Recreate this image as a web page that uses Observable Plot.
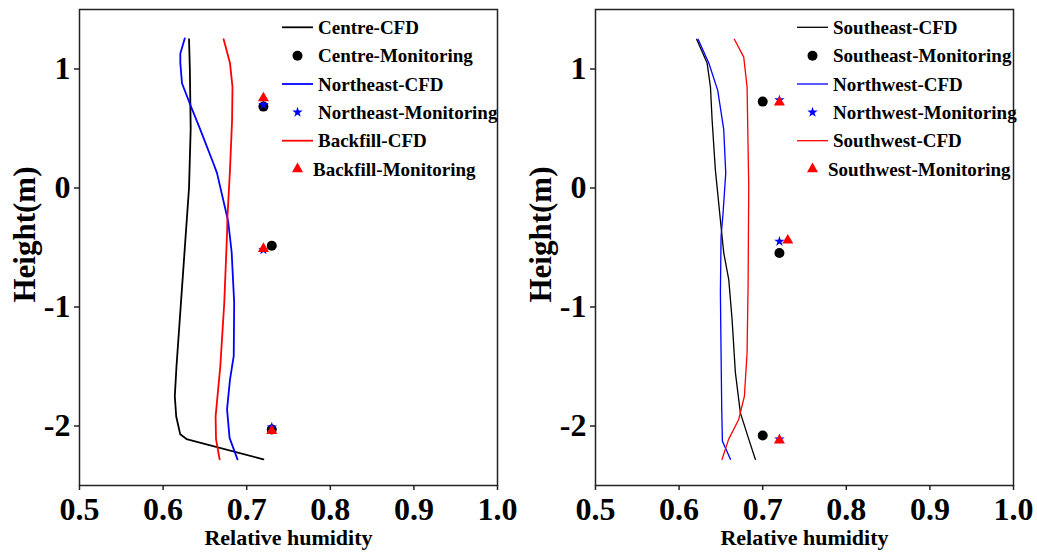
<!DOCTYPE html>
<html>
<head>
<meta charset="utf-8">
<script src="https://cdn.jsdelivr.net/npm/d3@7"></script>
<script src="https://cdn.jsdelivr.net/npm/@observablehq/plot@0.6"></script>
<style>
  html, body { margin: 0; padding: 0; background: #fff; }
  #wrap { position: relative; width: 1037px; height: 553px; overflow: hidden; font-family: "Liberation Serif", "Times New Roman", serif; }
  .panel { position: absolute; top: 0; }
  #legend { position: absolute; left: 0; top: 0; pointer-events: none; }
</style>
</head>
<body>
<div id="wrap">
  <div class="panel" id="p1" style="left:0px"></div>
  <div class="panel" id="p2" style="left:518px"></div>
  <svg id="legend" width="1037" height="553"></svg>
</div>
<script>
// ---------- axis ticks ----------
const xTicks = [0.5, 0.6, 0.7, 0.8, 0.9, 1.0];
const yTicks = [-2, -1, 0, 1];
const xLabel = "Relative humidity";
const yLabel = "Height(m)";

// ---------- Left panel: CFD profiles (height, relative humidity) ----------
const centreCfdH  = [1.25, 1.0, 0.5, 0.0, -0.5, -1.0, -1.5, -1.75, -1.92, -2.07, -2.11, -2.28];
const centreCfdRH = [0.631, 0.632, 0.633, 0.631, 0.626, 0.621, 0.616, 0.614, 0.6157, 0.6205, 0.628, 0.72];

const northeastCfdH  = [1.258, 1.13, 1.05, 0.88, 0.70, 0.49, 0.21, 0.125, -0.24, -0.29, -0.54, -0.96, -1.41, -1.61, -1.86, -2.10, -2.28];
const northeastCfdRH = [0.626, 0.6206, 0.6206, 0.6226, 0.6325, 0.6445, 0.660, 0.6645, 0.6765, 0.678, 0.682, 0.685, 0.6845, 0.680, 0.6765, 0.6795, 0.689];

const backfillCfdH  = [1.25, 1.05, 0.85, 0.57, 0.15, -0.24, -0.38, -0.96, -1.50, -1.92, -2.11, -2.28];
const backfillCfdRH = [0.6724, 0.680, 0.683, 0.6825, 0.680, 0.677, 0.6765, 0.6732, 0.6684, 0.6628, 0.6633, 0.6676];

// ---------- Left panel: monitoring points ----------
const centreMonH  = [0.684, -0.485, -2.03];
const centreMonRH = [0.72, 0.73, 0.73];
const northeastMonH  = [0.70, -0.52, -2.01];
const northeastMonRH = [0.72, 0.72, 0.73];
const backfillMonH  = [0.755, -0.51, -2.04];
const backfillMonRH = [0.72, 0.72, 0.73];

// ---------- Right panel: CFD profiles ----------
const southeastCfdH  = [1.25, 1.05, 0.85, 0.57, 0.15, -0.27, -0.546, -0.77, -1.106, -1.55, -1.89, -2.11, -2.28];
const southeastCfdRH = [0.621, 0.6335, 0.6375, 0.6395, 0.6434, 0.6494, 0.6534, 0.6594, 0.6634, 0.6673, 0.6733, 0.6833, 0.6912];

const northwestCfdH  = [1.25, 1.05, 0.82, 0.49, 0.125, -0.21, -0.407, -0.88, -1.385, -1.86, -2.127, -2.28];
const northwestCfdRH = [0.6227, 0.6355, 0.6462, 0.6534, 0.6558, 0.6526, 0.6502, 0.6494, 0.6502, 0.651, 0.6518, 0.6614];

const southwestCfdH  = [1.25, 1.10, 0.85, 0.01, -0.83, -1.385, -1.75, -1.945, -2.11, -2.28];
const southwestCfdRH = [0.6661, 0.6773, 0.6813, 0.6833, 0.6825, 0.6813, 0.6781, 0.6713, 0.6593, 0.6514];

// ---------- Right panel: monitoring points ----------
const southeastMonH  = [0.726, -0.546, -2.08];
const southeastMonRH = [0.70, 0.72, 0.70];
const northwestMonH  = [0.74, -0.449, -2.11];
const northwestMonRH = [0.72, 0.72, 0.72];
const southwestMonH  = [0.72, -0.44, -2.12];
const southwestMonRH = [0.72, 0.73, 0.72];

const toRows = (H, RH) => H.map((h, i) => ({h, v: RH[i]}));

const FONT = "'Liberation Serif', 'Times New Roman', serif";

function panel({width, marginLeft, marginRight, lines, points, lw}) {
  return Plot.plot({
    width, height: 553,
    marginLeft, marginRight, marginTop: 9, marginBottom: 68,
    style: {fontFamily: FONT, fontWeight: "bold", color: "#000", background: "#fff", overflow: "visible"},
    x: {domain: [0.5, 1.0]},
    y: {domain: [-2.5, 1.5]},
    marks: [
      Plot.axisX({ticks: xTicks, tickFormat: d => d.toFixed(1), tickSize: 5, tickPadding: 7, fontSize: 32, label: null, strokeWidth: 1.5, stroke: "#222", fill: "#000"}),
      Plot.axisY({ticks: yTicks, tickFormat: d => String(d), tickSize: 5, tickPadding: 4, fontSize: 32, label: null, strokeWidth: 1.5, stroke: "#222", fill: "#000"}),
      ...lines.map(s => Plot.line(toRows(s.H, s.RH), {x: "v", y: "h", stroke: s.color, strokeWidth: lw})),
      ...points.map(s => Plot.dot(toRows(s.H, s.RH), {x: "v", y: "h", symbol: s.symbol, r: s.r, fill: s.color, stroke: "none"})),
      Plot.frame({stroke: "#222", strokeWidth: 1.5}),
      Plot.text([xLabel], {frameAnchor: "bottom", textAnchor: "middle", lineAnchor: "middle", dy: 52, fontSize: 22, fontWeight: "bold", fill: "#000"}),
      Plot.text([yLabel], {frameAnchor: "left", textAnchor: "middle", lineAnchor: "middle", dx: -54, dy: -13, rotate: -90, fontSize: 31, fontWeight: "bold", fill: "#000"})
    ]
  });
}

const leftLines = [
  {H: centreCfdH, RH: centreCfdRH, color: "#000000", name: "Centre-CFD"},
  {H: northeastCfdH, RH: northeastCfdRH, color: "#0000ff", name: "Northeast-CFD"},
  {H: backfillCfdH, RH: backfillCfdRH, color: "#ff0000", name: "Backfill-CFD"}
];
const leftPoints = [
  {H: centreMonH, RH: centreMonRH, color: "#000000", symbol: "circle", r: 5, name: "Centre-Monitoring"},
  {H: northeastMonH, RH: northeastMonRH, color: "#0000ff", symbol: "star", r: 3.3, name: "Northeast-Monitoring"},
  {H: backfillMonH, RH: backfillMonRH, color: "#ff0000", symbol: "triangle", r: 4.1, name: "Backfill-Monitoring"}
];
const rightLines = [
  {H: southeastCfdH, RH: southeastCfdRH, color: "#000000", name: "Southeast-CFD"},
  {H: northwestCfdH, RH: northwestCfdRH, color: "#0000ff", name: "Northwest-CFD"},
  {H: southwestCfdH, RH: southwestCfdRH, color: "#ff0000", name: "Southwest-CFD"}
];
const rightPoints = [
  {H: southeastMonH, RH: southeastMonRH, color: "#000000", symbol: "circle", r: 5, name: "Southeast-Monitoring"},
  {H: northwestMonH, RH: northwestMonRH, color: "#0000ff", symbol: "star", r: 3.3, name: "Northwest-Monitoring"},
  {H: southwestMonH, RH: southwestMonRH, color: "#ff0000", symbol: "triangle", r: 4.1, name: "Southwest-Monitoring"}
];

document.getElementById("p1").appendChild(panel({width: 518, marginLeft: 79, marginRight: 21, lines: leftLines, points: leftPoints, lw: 1.8}));
document.getElementById("p2").appendChild(panel({width: 519, marginLeft: 77, marginRight: 24, lines: rightLines, points: rightPoints, lw: 1.3}));

// ---------- Legends ----------
const legendRowsY = [27.3, 55.7, 84, 112.3, 140.7, 169];
function drawLegend(svg, lines, points, x0, lw) {
  const items = [];
  for (let i = 0; i < 3; i++) { items.push({type: "line", ...lines[i]}); items.push({type: "pt", ...points[i]}); }
  const g = svg.append("g").attr("font-family", FONT).attr("font-weight", "bold").attr("font-size", 19);
  items.forEach((it, i) => {
    const y = legendRowsY[i];
    if (it.type === "line") {
      g.append("line").attr("x1", x0).attr("x2", x0 + 31).attr("y1", y).attr("y2", y)
        .attr("stroke", it.color).attr("stroke-width", lw);
    } else {
      const sym = {circle: d3.symbolCircle, star: d3.symbolStar, triangle: d3.symbolTriangle}[it.symbol];
      g.append("path").attr("d", d3.symbol(sym, it.r * it.r * Math.PI)())
        .attr("transform", `translate(${x0 + 15.5},${y})`).attr("fill", it.color);
    }
    const tx = (i === 5) ? x0 + 31 : x0 + 36;
    g.append("text").attr("x", tx).attr("y", y).attr("dy", "0.35em").attr("fill", "#000").text(it.name);
  });
}
const lsvg = d3.select("#legend");
drawLegend(lsvg, leftLines, leftPoints, 282, 1.8);
drawLegend(lsvg, rightLines, rightPoints, 797, 1.3);
</script>
</body>
</html>
